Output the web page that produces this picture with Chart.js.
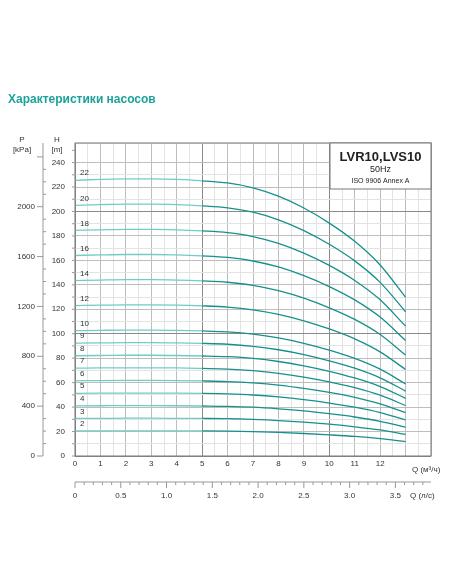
<!DOCTYPE html>
<html><head><meta charset="utf-8">
<script src="https://cdn.jsdelivr.net/npm/chart.js@4"></script>
<style>body{margin:0;background:#fff}#wrap{position:relative;width:452px;height:584px}</style>
</head><body><div id="wrap"><canvas id="c" width="452" height="584"></canvas></div>
<script>
const flowQ = [0,1,2,3,4,5,6,7,8,9,10,11,12,13];
const stages = [22,20,18,16,14,12,10,9,8,7,6,5,4,3,2];
const heads = [
  [225.5,226.2,226.6,226.6,226.2,225.1,223.3,219.3,212.5,202.8,190.5,175.6,156.2,129.8],
  [205.0,205.6,206.0,206.0,205.6,204.6,203.0,199.4,193.2,184.4,173.2,159.6,142.0,118.0],
  [184.5,185.0,185.4,185.4,185.0,184.1,182.7,179.5,173.9,166.0,155.9,143.6,127.8,106.2],
  [164.0,164.5,164.8,164.8,164.5,163.7,162.4,159.5,154.6,147.5,138.6,127.7,113.6,94.4],
  [143.5,143.9,144.2,144.2,143.9,143.2,142.1,139.6,135.2,129.1,121.2,111.7,99.4,82.6],
  [123.0,123.4,123.6,123.6,123.4,122.8,121.8,119.6,115.9,110.6,103.9,95.8,85.2,70.8],
  [102.5,102.8,103.0,103.0,102.8,102.3,101.5,99.7,96.6,92.2,86.6,79.8,71.0,59.0],
  [92.3,92.5,92.7,92.7,92.5,92.1,91.4,89.7,86.9,83.0,77.9,71.8,63.9,53.1],
  [82.0,82.2,82.4,82.4,82.2,81.8,81.2,79.8,77.3,73.8,69.3,63.8,56.8,47.2],
  [71.8,72.0,72.1,72.1,72.0,71.6,71.1,69.8,67.6,64.5,60.6,55.9,49.7,41.3],
  [61.5,61.7,61.8,61.8,61.7,61.4,60.9,59.8,58.0,55.3,52.0,47.9,42.6,35.4],
  [51.3,51.4,51.5,51.5,51.4,51.2,50.8,49.9,48.3,46.1,43.3,39.9,35.5,29.5],
  [41.0,41.1,41.2,41.2,41.1,40.9,40.6,39.9,38.6,36.9,34.6,31.9,28.4,23.6],
  [30.8,30.8,30.9,30.9,30.8,30.7,30.5,29.9,29.0,27.7,26.0,23.9,21.3,17.7],
  [20.5,20.6,20.6,20.6,20.6,20.5,20.3,19.9,19.3,18.4,17.3,16.0,14.2,11.8]
];
const pTicks = [0,400,800,1200,1600,2000];
const lsTicks = [0,0.5,1.0,1.5,2.0,2.5,3.0,3.5];
const kPaPerM = 9.81;

const FONT = 'Liberation Sans, Arial, sans-serif';

const datasets = stages.map((s, i) => ({
  label: String(s),
  data: flowQ.map((q, j) => ({x: q, y: heads[i][j]})),
  borderWidth: 1.3,
  pointRadius: 0,
  cubicInterpolationMode: 'monotone',
  segment: { borderColor: c => c.p0.parsed.x < 5 ? '#6fcdc6' : '#17908b' }
}));

const extras = {
  id: 'extras',
  afterDraw(chart) {
    const ctx = chart.ctx, xs = chart.scales.x, ys = chart.scales.y, a = chart.chartArea;
    ctx.save();
    // border
    ctx.strokeStyle = '#777'; ctx.lineWidth = 1;
    ctx.strokeRect(a.left, a.top, a.right - a.left, a.bottom - a.top);
    // stage labels
    ctx.fillStyle = '#333'; ctx.font = '8px ' + FONT; ctx.textAlign = 'left'; ctx.textBaseline = 'bottom';
    stages.forEach((s, i) => ctx.fillText(s, xs.getPixelForValue(0.2), ys.getPixelForValue(heads[i][0]) - 3));
    // axis titles
    ctx.textAlign = 'center'; ctx.textBaseline = 'middle';
    ctx.fillText('H', 57, 140); ctx.fillText('[m]', 57, 150);
    ctx.fillText('P', 22, 140); ctx.fillText('[kPa]', 22, 150);
    // P axis
    const px = 43;
    ctx.strokeStyle = '#999';
    ctx.beginPath(); ctx.moveTo(px, a.top); ctx.lineTo(px, a.bottom); ctx.stroke();
    for (let p = 0; p <= 2400; p += 100) {
      const y = ys.getPixelForValue(p / kPaPerM);
      if (y < a.top) break;
      ctx.beginPath(); ctx.moveTo(px, y); ctx.lineTo(px + (p % 400 === 0 ? -6 : 3), y); ctx.stroke();
    }
    ctx.textAlign = 'right';
    pTicks.forEach(p => ctx.fillText(p, px - 8, ys.getPixelForValue(p / kPaPerM)));
    // H minor ticks left of area
    for (let h = 0; h <= 250; h += 10) {
      const y = ys.getPixelForValue(h);
      ctx.beginPath(); ctx.moveTo(a.left - 3, y); ctx.lineTo(a.left, y); ctx.stroke();
    }
    ctx.textAlign = 'left';
    ctx.fillText('Q (м³/ч)', 412, 470);
    // l/s axis
    const ly = 482;
    ctx.beginPath(); ctx.moveTo(a.left, ly); ctx.lineTo(a.right, ly); ctx.stroke();
    for (let v = 0; v <= 3.9; v += 0.1) {
      const x = xs.getPixelForValue(v * 3.6);
      ctx.beginPath(); ctx.moveTo(x, ly); ctx.lineTo(x, ly + (Math.round(v * 10) % 5 === 0 ? 6 : 3)); ctx.stroke();
    }
    ctx.textAlign = 'center';
    lsTicks.forEach(v => ctx.fillText(v === 0 ? '0' : v.toFixed(1), xs.getPixelForValue(v * 3.6), 496));
    ctx.textAlign = 'left';
    ctx.fillText('Q (л/с)', 410, 496);
    // info box
    const bx = 330, by = a.top, bw = a.right - 330, bh = 46;
    ctx.fillStyle = '#fff'; ctx.fillRect(bx, by, bw, bh);
    ctx.strokeStyle = '#777'; ctx.strokeRect(bx, by, bw, bh);
    ctx.fillStyle = '#222'; ctx.textAlign = 'center';
    ctx.font = 'bold 13px ' + FONT; ctx.fillText('LVR10,LVS10', bx + bw / 2, by + 14);
    ctx.font = '9px ' + FONT; ctx.fillText('50Hz', bx + bw / 2, by + 27);
    ctx.font = '7px ' + FONT; ctx.fillText('ISO 9906 Annex A', bx + bw / 2, by + 38);
    // title
    ctx.fillStyle = '#1ba39b'; ctx.font = 'bold 12px ' + FONT; ctx.textAlign = 'left';
    ctx.fillText('Характеристики насосов', 8, 100);
    ctx.restore();
  }
};

new Chart(document.getElementById('c'), {
  type: 'line',
  data: { datasets },
  options: {
    responsive: false,
    animation: false,
    layout: { padding: { left: 0, right: 21, top: 143, bottom: 0 } },
    plugins: { legend: { display: false }, tooltip: { enabled: false } },
    scales: {
      x: {
        type: 'linear', min: 0, max: 14,
        afterFit: s => { s.height = 128; },
        ticks: { stepSize: 0.5, autoSkip: false, maxRotation: 0, color: '#333', font: { size: 8, family: FONT },
          callback: v => (Number.isInteger(v) && v <= 12) ? v : '' },
        grid: { drawTicks: false, color: c => c.tick.value % 5 === 0 ? '#8a8a8a' : (Number.isInteger(c.tick.value) ? '#bdbdbd' : '#e3e3e3') },
        border: { display: false }
      },
      y: {
        min: 0, max: 256,
        afterFit: s => { s.width = 75; },
        ticks: { stepSize: 10, autoSkip: false, color: '#333', padding: 10, font: { size: 8, family: FONT },
          callback: v => (v % 20 === 0 && v <= 240) ? v : '' },
        grid: { drawTicks: false, color: c => c.tick.value % 100 === 0 ? '#8a8a8a' : (c.tick.value % 20 === 0 ? '#bdbdbd' : '#e3e3e3') },
        border: { display: false }
      }
    }
  },
  plugins: [extras]
});
</script></body></html>
